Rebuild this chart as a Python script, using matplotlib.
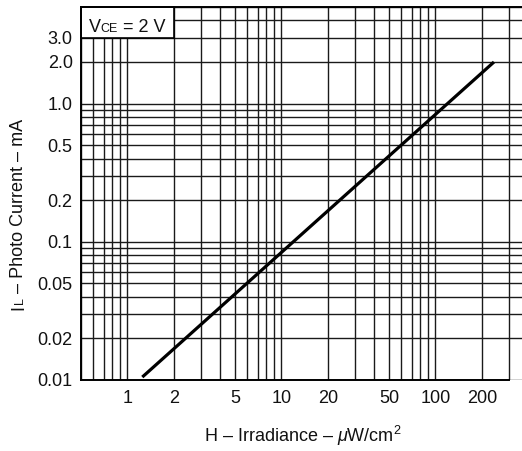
import matplotlib
matplotlib.use("Agg")
import matplotlib.pyplot as plt
from matplotlib.patches import Rectangle
from matplotlib.ticker import FixedLocator, FixedFormatter, LogLocator, NullFormatter

plt.rcParams['font.family'] = ['Liberation Sans', 'DejaVu Sans']
plt.rcParams['mathtext.fontset'] = 'custom'
plt.rcParams['mathtext.rm'] = 'Liberation Sans'
plt.rcParams['mathtext.it'] = 'Liberation Sans:italic'

# photo current vs irradiance at VCE = 2 V
irradiance = [1.25, 240]        # uW/cm^2
photo_current = [0.0105, 2.0]   # mA

x_ticks = [1, 2, 5, 10, 20, 50, 100, 200]
x_ticklabels = ["1", "2", "5", "10", "20", "50", "100", "200"]
y_ticks = [0.01, 0.02, 0.05, 0.1, 0.2, 0.5, 1.0, 2.0, 3.0]
y_ticklabels = ["0.01", "0.02", "0.05", "0.1", "0.2", "0.5", "1.0", "2.0", "3.0"]

TXT = '#111111'
FS = 13

W, H = 522, 451
fig = plt.figure(figsize=(W / 100, H / 100), dpi=100)
ax = fig.add_axes([81 / W, 1 - 380 / H, 1 - 81 / W, (380 - 7) / H])

ax.set_xscale('log')
ax.set_yscale('log')
ax.set_xlim(0.5, 365)
ax.set_ylim(0.01, 5)

ax.xaxis.set_major_locator(FixedLocator(x_ticks))
ax.xaxis.set_major_formatter(FixedFormatter(x_ticklabels))
ax.yaxis.set_major_locator(FixedLocator(y_ticks))
ax.yaxis.set_major_formatter(FixedFormatter(y_ticklabels))
for axis in (ax.xaxis, ax.yaxis):
    axis.set_minor_locator(LogLocator(base=10, subs=range(1, 10), numticks=20))
    axis.set_minor_formatter(NullFormatter())

ax.tick_params(which='both', length=0, labelsize=FS, colors=TXT)
ax.tick_params(axis='x', pad=7)
ax.tick_params(axis='y', pad=6)

ax.set_axisbelow(True)
ax.grid(True, which='both', color='#1a1a1a', linewidth=1.0)

for side in ('left', 'top', 'bottom'):
    ax.spines[side].set_linewidth(1.4)
    ax.spines[side].set_color('black')
ax.spines['right'].set_visible(False)
ax.spines['bottom'].set_bounds(0.5, 300)

# condition box in the upper left corner
ax.add_patch(Rectangle((0.5, 3.0), 1.5, 2.0, facecolor='white',
                       edgecolor='black', linewidth=1.2, zorder=2.5,
                       clip_on=False))

ax.plot(irradiance, photo_current, color='black', linewidth=2.3,
        solid_capstyle='butt', zorder=4)

fig.text(303 / W, 1 - 436 / H, r"H – Irradiance – $\mu$W/cm$^2$",
         fontsize=FS, color=TXT, ha='center', va='center')


def place_pieces(cx, cy, pieces, rotation=0):
    # lay out text runs of mixed size on one baseline, centred on (cx, cy) in pixels
    r = fig.canvas.get_renderer()
    texts = [fig.text(0, 0, s, fontsize=fs, color=TXT, ha='left', va='baseline')
             for s, fs in pieces]
    widths = [t.get_window_extent(r).width for t in texts]
    pos = -sum(widths) / 2
    for t, w in zip(texts, widths):
        if rotation == 0:
            px, py = cx + pos, cy
        else:
            px, py = cx, cy + pos
        t.set_position((px / W, py / H))
        t.set_rotation(rotation)
        t.set_rotation_mode('anchor')
        pos += w


fig.canvas.draw()
place_pieces(127, H - 32, [("V", FS), ("CE", 9), (" = 2 V", FS)])
place_pieces(23, H - 214, [("I", FS), ("L", 9), (" – Photo Current – mA", FS)],
             rotation=90)

fig.savefig("out.png", dpi=100)
